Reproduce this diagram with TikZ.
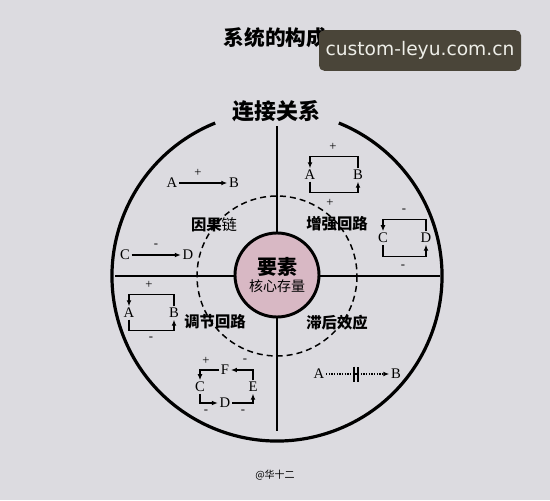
\documentclass[tikz,border=0pt]{standalone}
\usepackage{fontspec}
\setmainfont{Liberation Serif}
\newfontfamily\cjk{Noto Sans CJK SC}
\newfontfamily\wmfont{DejaVu Sans}
\usetikzlibrary{arrows.meta}
\definecolor{bgcol}{HTML}{DCDBE0}
\definecolor{corepink}{HTML}{D8B8C4}
\definecolor{wmcol}{HTML}{4A4539}
\definecolor{wmtext}{HTML}{EEEEE8}
\tikzset{every picture/.style={line width=0.75pt},
  ring/.style={line width=2.4pt},
  axis/.style={line width=2.1pt},
  link/.style={line width=1pt,-{Latex[length=4.5pt,width=3.6pt]}},
  delay/.style={line width=1.1pt,dash pattern=on 1pt off 1pt,-{Latex[length=4.5pt,width=3.6pt]}},
  letter/.style={inner sep=1pt,font=\fontsize{11}{11}\selectfont},
  sign/.style={inner sep=0pt,font=\fontsize{9.5}{9.5}\selectfont},
  quad/.style={inner sep=1pt,font=\cjk\bfseries\fontsize{11.5}{11.5}\selectfont},
}

\begin{document}
\begin{tikzpicture}[x=0.75pt,y=0.75pt,yscale=-1,xscale=1]
%background
\fill[bgcol] (0,0) rectangle (550,500);
\useasboundingbox (0,0) rectangle (550,500);

%Circle with gap for the heading
\draw[ring] (277,276) ++(-112:165) arc[start angle=-112,end angle=-428,radius=165];
%Straight Lines
\draw[axis] (277,126) -- (277,431);
\draw[axis] (115,276) -- (440,276);
%Dashed circle
\draw[line width=1.1pt,dash pattern=on 4.5pt off 3pt] (277,276) circle (80);
%Core circle
\node[circle,draw,line width=2.2pt,fill=corepink,minimum size=63pt,inner sep=0pt,align=center] (core) at (277,275)
  {{\cjk\bfseries\fontsize{15}{17}\selectfont 要素}\\[1pt]{\cjk\fontsize{10.5}{12}\selectfont 核心存量}};

% Text Node
\node[font=\cjk\bfseries\fontsize{15.5}{15.5}\selectfont] (title) at (275.5,38) {系统的构成};
% Text Node
\node[fill=wmcol,rounded corners=4pt,minimum width=151.5pt,minimum height=30.5pt,text=wmtext,font=\wmfont\fontsize{14}{14}\selectfont] (wm) at (420,50.5) {custom-leyu.com.cn};
% Text Node
\node[font=\cjk\bfseries\fontsize{16.5}{16.5}\selectfont] (head) at (276,111) {连接关系};
% Text Node
\node[font=\cjk\fontsize{7.5}{7.5}\selectfont] (sign) at (275,475) {@华十二};

% Quadrant labels
\node[quad] (qcause) at (214,225) {因果{\mdseries 链}};
\node[quad] (qpos) at (337,224) {增强回路};
\node[quad] (qneg) at (215,322) {调节回路};
\node[quad] (qlag) at (337,323) {滞后效应};

%Cause chains
\node[letter] (cA) at (172,183) {A};
\node[letter] (cB) at (234,183) {B};
\draw[link] (cA) -- (cB);
\node[sign] (cp) at (198,173) {+};
\node[letter] (cC) at (125,255) {C};
\node[letter] (cD) at (188,255) {D};
\draw[link] (cC) -- (cD);
\node[sign] (cm) at (156,246) {-};

%Reinforcing loop
\node[letter] (rA) at (310,175) {A};
\node[letter] (rB) at (358,175) {B};
\draw[link] (rB.north) -- ++(0,-12) -| (rA.north);
\draw[link] (rA.south) -- ++(0,11) -| (rB.south);
\node[sign] (rp1) at (333,147) {+};
\node[sign] (rp2) at (330,203) {+};
\node[letter] (rC) at (383,238) {C};
\node[letter] (rD) at (426,238) {D};
\draw[link] (rD.north) -- ++(0,-12) -| (rC.north);
\draw[link] (rC.south) -- ++(0,12) -| (rD.south);
\node[sign] (rm1) at (404,211) {-};
\node[sign] (rm2) at (403,267) {-};

%Balancing loops
\node[letter] (bA) at (129,313) {A};
\node[letter] (bB) at (174,313) {B};
\draw[link] (bB.north) -- ++(0,-12) -| (bA.north);
\draw[link] (bA.south) -- ++(0,11) -| (bB.south);
\node[sign] (bp) at (149,285) {+};
\node[sign] (bm) at (151,339) {-};
\node[letter] (bF) at (225,370) {F};
\node[letter] (bC) at (200,387) {C};
\node[letter] (bE) at (253,387) {E};
\node[letter] (bD) at (225,403) {D};
\draw[link] (bF.west) -| (bC.north);
\draw[link] (bC.south) |- (bD.west);
\draw[link] (bD.east) -| (bE.south);
\draw[link] (bE.north) |- (bF.east);
\node[sign] (bs1) at (206,361) {+};
\node[sign] (bs2) at (245,361) {-};
\node[sign] (bs3) at (206,412) {-};
\node[sign] (bs4) at (243,412) {-};

%Delay
\node[letter] (dA) at (319,374) {A};
\node[letter] (dB) at (396,374) {B};
\coordinate (dmid) at (356,374);
\draw[delay] (dA) -- (dB);
\draw[line width=1.1pt] (dmid) ++(-2,-7.5) -- ++(0,15) ++(4,0) -- ++(0,-15);
\end{tikzpicture}
\end{document}
